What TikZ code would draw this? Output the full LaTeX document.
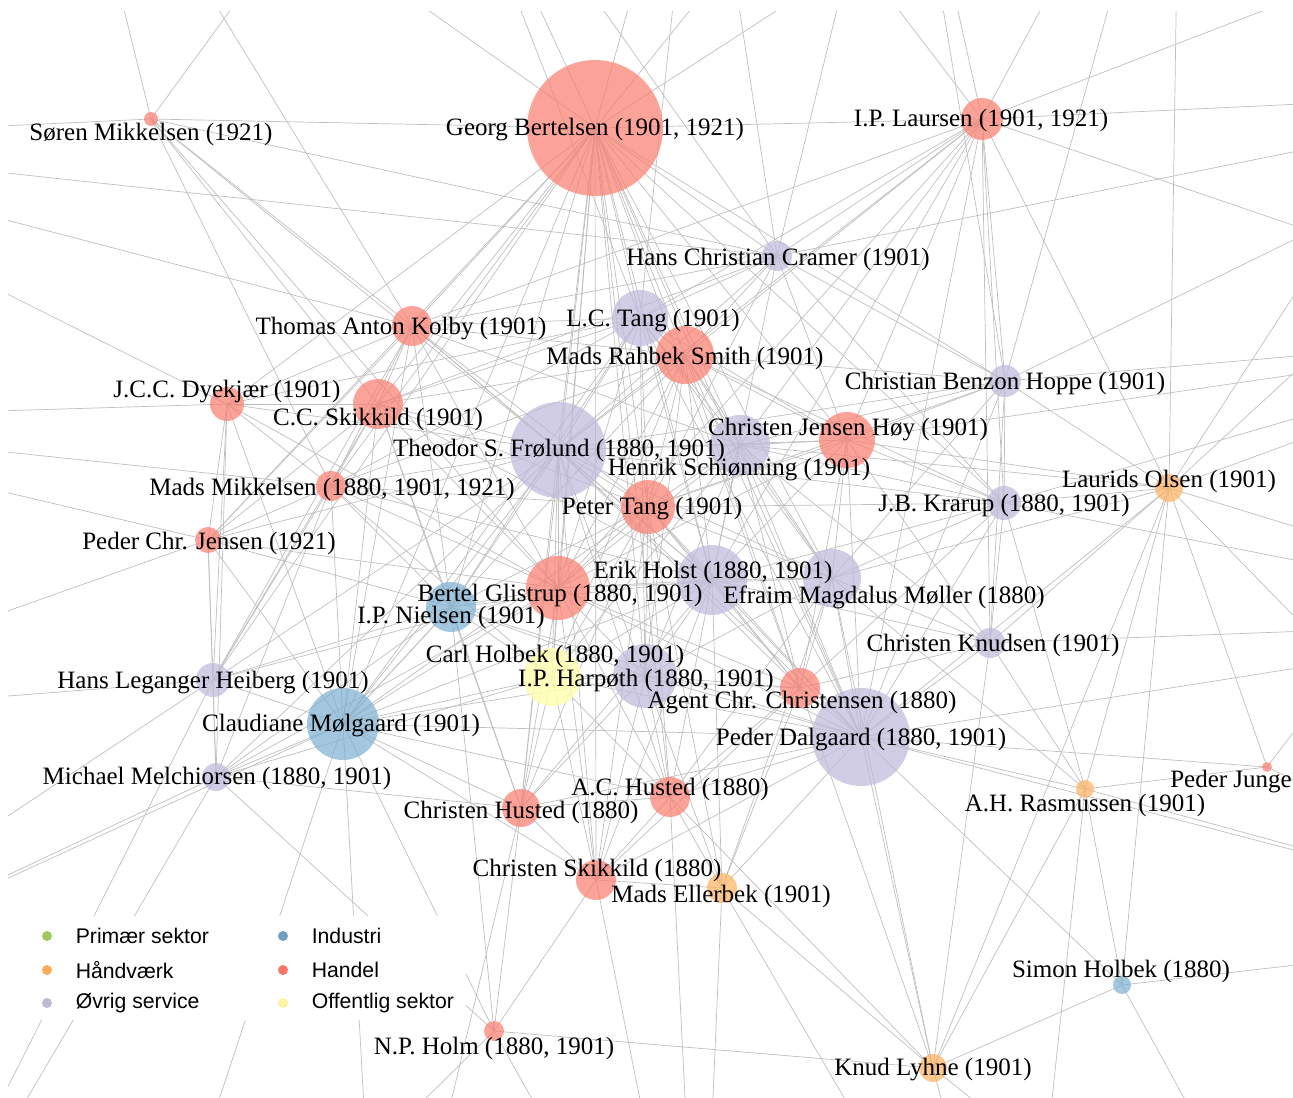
\documentclass[tikz,border=0pt]{standalone}
\usepackage{fontspec}
\setmainfont{Liberation Serif}
\newfontfamily\legendfont{Liberation Sans}
\usetikzlibrary{positioning}
\definecolor{handelc}{RGB}{251,128,114}
\definecolor{servicec}{RGB}{190,186,218}
\definecolor{industric}{RGB}{128,177,211}
\definecolor{haandvaerkc}{RGB}{253,180,98}
\definecolor{offentligc}{RGB}{255,255,179}
\definecolor{primaerc}{RGB}{179,222,105}
\tikzset{
  edge/.style={draw=black!25, line width=0.35pt},
  person/.style={circle, inner sep=0pt, fill opacity=0.72},
  handel/.style={person, fill=handelc},
  service/.style={person, fill=servicec},
  industri/.style={person, fill=industric},
  haandvaerk/.style={person, fill=haandvaerkc},
  offentlig/.style={person, fill=offentligc, fill opacity=0.85},
  lbl/.style={font=\fontsize{12.5}{14}\selectfont, inner sep=0pt, yshift=-1.5pt},
  legdot/.style={circle, inner sep=0pt, minimum size=5pt},
  legtxt/.style={font=\legendfont\fontsize{10.6}{12}\selectfont, inner sep=0pt}
}
\begin{document}
\begin{tikzpicture}[x=0.5pt,y=-0.5pt]
\useasboundingbox (0,0) rectangle (1293,1097);
% positions of the persons
\coordinate (sm) at (151,119);
\coordinate (gb) at (595,128);
\coordinate (ipl) at (982,119);
\coordinate (hcc) at (777,256);
\coordinate (lct) at (640,318);
\coordinate (tak) at (412,326);
\coordinate (mrs) at (685,355);
\coordinate (cbh) at (1005,381);
\coordinate (jcc) at (227,404);
\coordinate (ccs) at (378,404);
\coordinate (tsf) at (558,450);
\coordinate (cjh) at (847,440);
\coordinate (hs) at (740,445);
\coordinate (mm) at (331,486);
\coordinate (lo) at (1169,488);
\coordinate (jbk) at (1004,503);
\coordinate (pt) at (648,507);
\coordinate (pcj) at (208,540);
\coordinate (eh) at (712,580);
\coordinate (emm) at (832,578);
\coordinate (bg) at (558,588);
\coordinate (ipn) at (451,607);
\coordinate (ck) at (990,643);
\coordinate (ch) at (552,677);
\coordinate (iph) at (645,676);
\coordinate (acc) at (800,688);
\coordinate (hlh) at (213,680);
\coordinate (cm) at (343,724);
\coordinate (pd) at (861,737);
\coordinate (mme) at (216,777);
\coordinate (ach) at (670,797);
\coordinate (chu) at (521,808);
\coordinate (pj) at (1267,767);
\coordinate (ahr) at (1085,789);
\coordinate (csk) at (596,880);
\coordinate (me) at (722,888);
\coordinate (sh) at (1122,985);
\coordinate (nph) at (494,1031);
\coordinate (kl) at (933,1068);
% persons outside the frame
\coordinate (t1) at (60,-250);
\coordinate (t2) at (420,-250);
\coordinate (t3) at (700,-250);
\coordinate (t4) at (900,-250);
\coordinate (t5) at (1180,-250);
\coordinate (t6) at (1550,-100);
\coordinate (l1) at (-300,140);
\coordinate (l2) at (-300,420);
\coordinate (l3) at (-300,720);
\coordinate (l4) at (-300,1020);
\coordinate (r1) at (1600,90);
\coordinate (r2) at (1600,330);
\coordinate (r3) at (1600,620);
\coordinate (r4) at (1600,930);
\coordinate (b0) at (-150,1400);
\coordinate (b1) at (120,1400);
\coordinate (b2) at (380,1400);
\coordinate (b3) at (700,1400);
\coordinate (b4) at (1020,1400);
\coordinate (b5) at (1350,1400);
\begin{scope}
\clip (8,12) rectangle (1293,1097);
\foreach \a/\bs in {
  gb/{t1,t2,t3,t4,t5,sm,tak,lct,mrs,tsf,hs,cjh,pt,eh,emm,bg,ipn,ch,iph,acc,pd,ccs,jcc,mm,cm,hcc,ipl,cbh,jbk,ach,chu,csk,hlh,pcj},
  ipl/{t3,t4,t5,t6,r1,r2,hcc,lct,mrs,tsf,cjh,hs,cbh,jbk,lo,pd,eh,tak,bg,ck},
  sm/{t1,t2,l1,tak,ccs,tsf,mm,hcc,bg},
  hcc/{t2,t3,t4,lct,mrs,tsf,tak,ccs,cbh,cjh,pt,eh,jbk,l1,r1},
  lct/{t2,t3,tak,mrs,tsf,hs,cjh,pt,eh,bg,ipn,ccs,jcc,mm,cm,pd,emm,iph},
  tak/{t1,l1,jcc,ccs,tsf,mrs,pt,bg,mm,pcj,cm,hlh,eh,hs,ipn},
  mrs/{tsf,hs,cjh,pt,eh,emm,bg,ccs,mm,cm,pd,iph,acc,jbk,cbh,ch},
  cbh/{t4,t5,r1,r2,cjh,hs,jbk,lo,pd,ck,emm,tsf,pt},
  jcc/{l1,l2,ccs,mm,pcj,tsf,bg,cm,hlh,mme},
  ccs/{tsf,mm,pt,bg,ipn,cm,hlh,pcj,eh,chu},
  tsf/{hs,cjh,pt,eh,emm,bg,ipn,ch,iph,acc,pd,cm,mm,pcj,hlh,mme,chu,ach,csk,jbk},
  cjh/{hs,pt,eh,emm,jbk,lo,pd,acc,ck,bg,r2},
  hs/{pt,eh,emm,jbk,pd,acc,bg,iph,ch,ck,lo},
  mm/{l2,pcj,bg,ipn,cm,hlh,ch,pt,eh,mme},
  lo/{t5,t6,r1,r2,r3,r4,jbk,pd,ck,pj,ahr,kl,emm,sh},
  jbk/{r2,r3,pd,ck,emm,eh,acc,pt,ahr},
  pt/{eh,emm,bg,ipn,ch,iph,acc,pd,cm,ach,chu,csk,me},
  pcj/{l2,l3,hlh,cm,bg,mme,ipn},
  eh/{emm,bg,ipn,ch,iph,acc,pd,cm,ach,chu,csk,me,ck},
  emm/{bg,iph,acc,pd,ck,ach,me,ahr,kl},
  bg/{ipn,ch,iph,acc,pd,cm,chu,ach,csk,hlh,mme},
  ipn/{ch,iph,cm,hlh,mme,chu,pd,nph},
  ck/{r3,pd,acc,ahr,kl},
  ch/{iph,cm,chu,ach,csk,acc,pd,mme},
  iph/{acc,pd,cm,ach,chu,csk,me},
  acc/{pd,ach,csk,me,kl},
  hlh/{l3,l4,cm,mme,b0},
  cm/{mme,chu,ach,pd,csk,b1,b2,l4,nph},
  pd/{ach,chu,csk,me,ahr,pj,kl,r3,r4,sh},
  mme/{l4,b0,chu,nph},
  ach/{chu,csk,me,kl,b3},
  chu/{csk,nph,b2},
  pj/{r2,r4,ahr},
  ahr/{kl,sh,b4,r4},
  csk/{me,nph,b3},
  me/{kl,b3,b4},
  sh/{kl,b5,r4},
  nph/{b1,b3,kl},
  kl/{b4,b5}}
  \foreach \b in \bs
    \draw[edge] (\a) -- (\b);
\end{scope}
% the persons
\foreach \n/\r/\s in {gb/68/handel, pd/49/service, tsf/48/service, cm/36/industri, eh/35/service,
  bg/32/handel, iph/32/service, hs/30/service, mrs/29/handel, emm/29/service, ch/29/offentlig,
  lct/28/service, cjh/28/handel, pt/27/handel, ccs/25/handel, ipn/25/industri, ipl/21/handel,
  tak/20/handel, acc/20/handel, ach/20/handel, csk/20/handel, chu/19/handel, jcc/17/handel,
  jbk/17/service, hlh/17/service, cbh/16/service, hcc/15/service, mm/15/handel, ck/15/service,
  me/15/haandvaerk, lo/14/haandvaerk, mme/14/service, kl/14/haandvaerk, pcj/13/handel,
  nph/10/handel, ahr/9/haandvaerk, sh/9/industri, sm/7/handel, pj/5/handel}
  \node[\s, minimum size=\r pt] (\n c) at (\n) {};
% names
\node[lbl] (sml) at (151,131) {Søren Mikkelsen (1921)};
\node[lbl] (gbl) at (595,127) {Georg Bertelsen (1901, 1921)};
\node[lbl] (ipll) at (981,117) {I.P. Laursen (1901, 1921)};
\node[lbl] (hccl) at (778,256) {Hans Christian Cramer (1901)};
\node[lbl] (lctl) at (653,318) {L.C. Tang (1901)};
\node[lbl] (takl) at (401,326) {Thomas Anton Kolby (1901)};
\node[lbl] (mrsl) at (685,355) {Mads Rahbek Smith (1901)};
\node[lbl] (cbhl) at (1005,380) {Christian Benzon Hoppe (1901)};
\node[lbl] (jccl) at (227,389) {J.C.C. Dyekjær (1901)};
\node[lbl] (ccsl) at (378,416) {C.C. Skikkild (1901)};
\node[lbl] (tsfl) at (559,447) {Theodor S. Frølund (1880, 1901)};
\node[lbl] (cjhl) at (848,427) {Christen Jensen Høy (1901)};
\node[lbl] (hsl) at (739,467) {Henrik Schiønning (1901)};
\node[lbl] (mml) at (332,486) {Mads Mikkelsen (1880, 1901, 1921)};
\node[lbl] (lol) at (1169,478) {Laurids Olsen (1901)};
\node[lbl] (jbkl) at (1004,502) {J.B. Krarup (1880, 1901)};
\node[lbl] (ptl) at (652,506) {Peter Tang (1901)};
\node[lbl] (pcjl) at (209,540) {Peder Chr. Jensen (1921)};
\node[lbl] (ehl) at (713,569) {Erik Holst (1880, 1901)};
\node[lbl] (emml) at (884,594) {Efraim Magdalus Møller (1880)};
\node[lbl] (bgl) at (560,592) {Bertel Glistrup (1880, 1901)};
\node[lbl] (ipnl) at (451,614) {I.P. Nielsen (1901)};
\node[lbl] (ckl) at (993,642) {Christen Knudsen (1901)};
\node[lbl] (chl) at (555,653) {Carl Holbek (1880, 1901)};
\node[lbl] (iphl) at (646,677) {I.P. Harpøth (1880, 1901)};
\node[lbl] (accl) at (802,700) {Agent Chr. Christensen (1880)};
\node[lbl] (hlhl) at (213,680) {Hans Leganger Heiberg (1901)};
\node[lbl] (cml) at (341,723) {Claudiane Mølgaard (1901)};
\node[lbl] (pdl) at (861,737) {Peder Dalgaard (1880, 1901)};
\node[lbl] (mmel) at (217,775) {Michael Melchiorsen (1880, 1901)};
\node[lbl] (achl) at (670,786) {A.C. Husted (1880)};
\node[lbl] (chul) at (521,809) {Christen Husted (1880)};
\node[lbl] (pjl) at (1231,779) {Peder Junge};
\node[lbl] (ahrl) at (1085,802) {A.H. Rasmussen (1901)};
\node[lbl] (cskl) at (597,867) {Christen Skikkild (1880)};
\node[lbl] (mel) at (721,893) {Mads Ellerbek (1901)};
\node[lbl] (shl) at (1121,968) {Simon Holbek (1880)};
\node[lbl] (nphl) at (494,1045) {N.P. Holm (1880, 1901)};
\node[lbl] (kll) at (933,1067) {Knud Lyhne (1901)};
% legend
\fill[white] (20,916) rectangle (466,1020);
\node[legdot, fill=primaerc!90!black] (d1) at (47,936) {};
\node[legdot, fill=haandvaerkc!95!red] (d2) at (47,970) {};
\node[legdot, fill=servicec] (d3) at (47,1003) {};
\node[legdot, fill=industric!90!black] (d4) at (283,936) {};
\node[legdot, fill=handelc!90!red] (d5) at (283,970) {};
\node[legdot, fill=offentligc!90!orange] (d6) at (283,1003) {};
\node[legtxt, right=11.5pt of d1] {Primær sektor};
\node[legtxt, right=11.5pt of d2] {Håndværk};
\node[legtxt, right=11.5pt of d3] {Øvrig service};
\node[legtxt, right=11.5pt of d4] {Industri};
\node[legtxt, right=11.5pt of d5] {Handel};
\node[legtxt, right=11.5pt of d6] {Offentlig sektor};
\end{tikzpicture}
\end{document}
